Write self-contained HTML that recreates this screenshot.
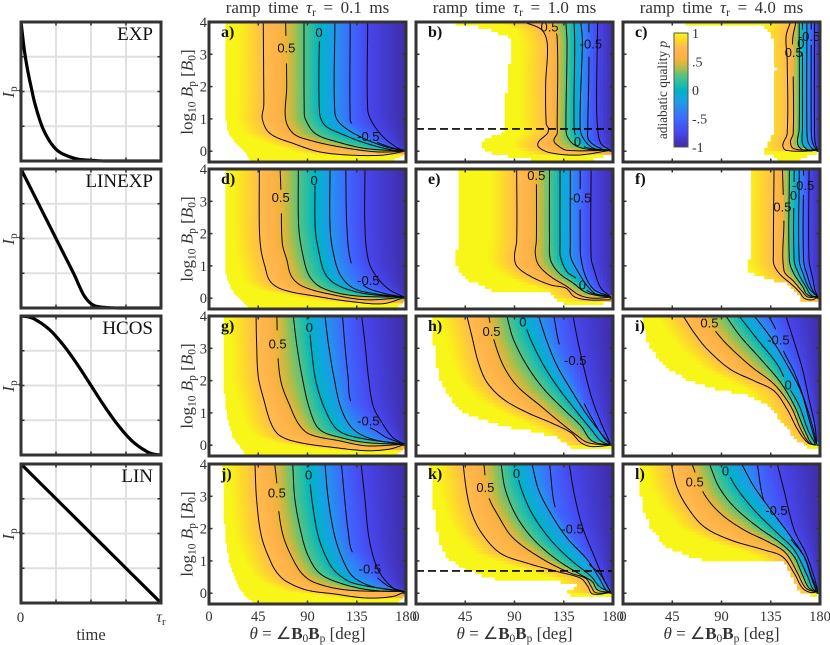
<!DOCTYPE html>
<html><head><meta charset="utf-8"><title>Adiabatic quality maps</title>
<style>
html,body{margin:0;padding:0;background:#fff}
svg{display:block}
text{font-family:"Liberation Serif",serif;fill:#333}
.contour-label{font-family:"Liberation Sans",sans-serif;fill:#111;font-size:13px;text-anchor:middle}
</style></head>
<body>
<svg id="figure" xmlns="http://www.w3.org/2000/svg" width="830" height="645" viewBox="0 0 830 645"></svg>
<script>
// ---------- pulse shape data ----------
const expTime=[0,.025,.05,.075,.1,.15,.2,.25,.3,.4,.5,.6,1];
const expCurrent=[1,.79,.64,.52,.41,.25,.15,.085,.05,.015,.005,0,0];
const linexpTime=[0,.1,.2,.3,.38,.42,.45,.49,.53,.6,.7,1];
const linexpCurrent=[1,.8,.6,.4,.24,.15,.09,.04,.015,.004,0,0];
const hcosTime=[0,.05,.1,.2,.3,.4,.5,.6,.7,.8,.9,.95,1];
const hcosCurrent=[1,.994,.976,.905,.794,.655,.5,.345,.206,.095,.024,.006,0];
const linTime=[0,1];
const linCurrent=[1,0];
const pulseNames=["EXP","LINEXP","HCOS","LIN"];

// ---------- contour levels and axes ----------
const contourLevels=[.75,.5,.25,0,-.25,-.5,-.75];
const thetaTicks=[0,45,90,135,180];
const logBTicks=[0,1,2,3,4];
const colorbarTicks=[[1,"1"],[.5,".5"],[0,"0"],[-.5,"-.5"],[-1,"-1"]];
const rampTimes=["0.1","1.0","4.0"];
const dashedLogB=.69;

// contours: theta,logB pairs per level. labels: text,line,theta,logB,gapTop,gapBottom
const linesA=[
[49.6,4,50,2,50,1.4,48.7,1,55.7,.55,77,.24,101,-.02,129,-.12,159,-.12,179,0],
[70,4,71,2,70,1,77,.55,92,.34,120,.13,153,-.02,180,0],
[86.8,4,87,1.27,88,1,97,.55,117,.29,144,.08,180,0],
[101,4,101,1.2,106,.8,120,.55,144,.24,168,.03,180,0],
[115,4,115,1.2,120,.85,138,.45,162,.13,180,0],
[129,4,129,.95,131,.85,140,.55,150,.33,168,.1,180,.02],
[145,4,145,1.3,149,.9,159,.45,171,.13,180,0]];
const labelsA=[["0.5",1,70.7,3.2,3.49,2.84],["0",3,100.5,3.68,3.85,3.49],["-0.5",5,145.6,.46,.86,.29]];
const leftA=[[4,14.6],[1.2,14.6],[.55,17.7],[.24,25],[-.02,33],[-.28,37]];
const rightA=[[-.05,180],[-.15,175],[-.26,168]];

const linesB=[
[98.6,4,115,3.75,120,3.3,118.5,2.1,119,.85,121,.7,120,.55,112,.29,112,.13,123,-.05,148,-.12,178,.03],
[125,4,129,3.5,129,.75,129,.55,126,.34,129,.19,138,.03,178,.03],
[137,4,138,3.3,137,.7,138.5,.44,145,.19,157,.06,178,.03],
[144.5,4,145,3.3,144.5,.7,147,.4,154,.13,178,.03],
[150.6,4,152,3.4,150,.7,154,.34,163,.08,178,.03],
[158,4,158,2.5,157,.7,158,.34,169,.08,178,.03],
[166,4,165,1.6,166,.7,169,.24,178,.03]];
const labelsB=[["0.5",1,122,3.85,4,3.65],["-0.5",5,159.8,3.32,3.6,3],["0",3,147.5,.3,.5,.15]];
const leftB=[[4,37],[3.95,37],[3.8,65],[3.6,80],[3.45,88],[3.13,87],[2.6,85],[2.1,83],[1.4,82],[.7,82],[.55,77],[.34,62],[.19,59],[-.02,63],[-.17,86],[-.28,111]];
const rightB=[[-.05,180],[-.15,172],[-.26,160]];

const linesC=[
[153,4,149,3.55,150,2.85,150,.55,146,.19,149,.03,172,.01,178,.07],
[158,4,155,3.45,155.5,2.45,155.5,.55,153,.29,156,.08,175,.03],
[161,4,161,.7,159.5,.24,164,.05,176,.03],
[164,4,164,.7,164,.24,168.6,.05,177,.03],
[168,4,168,.7,169,.3,173,.08,178,.03],
[172,4,172,.7,173,.3,176,.08,178,.03],
[175,4,175,.55,176,.2,178,.03]];
const labelsC=[["0.5",1,156,3.06,3.3,2.45],["0",3,162.5,3.34,3.55,3.1],["-0.5",5,170,3.55,3.75,3.3]];
const leftC=[[4,58],[3.95,58],[3.9,125],[3.75,133],[3.35,138],[2.6,139.6],[.55,138],[.24,133],[-.02,127],[-.17,138],[-.28,144]];
const rightC=[[0,180],[-.1,172],[-.17,168],[-.26,161]];

const linesD=[
[46,4,46,2.2,47.5,1.5,51,1,56,.52,68,.26,98,.06,129,-.1,159,-.17,179,.03],
[65,4,66,3,67,1.7,71,1.2,75.5,.67,86,.36,114,.1,144,-.05,179,.03],
[81.6,4,82,2.2,86,1.3,92,.67,104,.31,132,.08,179,.03],
[97,4,97,2.2,100,1.5,106,.77,117,.41,141,.15,179,.03],
[110.6,4,110.6,2.2,113.6,1.4,120,.72,132,.31,153,.13,179,.03],
[125,4,126,2.2,130,1.08,141,.41,159,.16,179,.03],
[142.5,4,142.5,2.2,145.6,1.18,153,.67,165,.26,179,.03]];
const labelsD=[["0.5",1,65.5,3.11,3.33,2.72],["0",3,96,3.64,3.85,3.5],["-0.5",5,145.6,.55,1.08,.41]];
const leftD=[[4,14.6],[1.18,14.6],[.67,16],[.26,21],[0,27],[-.28,36]];
const rightD=[[-.05,180],[-.1,178],[-.22,173]];

const linesE=[
[92,4,92,1.8,90,1.28,92.4,.98,105,.67,123,.41,137,.31,144.5,.05,157,-.05,178,-.05],
[110,4,110,1.8,109,1.39,112,1.03,123,.67,138,.36,149,.1,161,0,178,.03],
[122,4,122,1.8,123,1.18,131,.77,144,.46,154,.2,166,.08,178,.05],
[131.6,4,131.6,1.7,132,1.28,138,.82,146,.62,158,.2,178,.05],
[141,4,141,1.7,141.4,1.28,147.5,.85,157,.36,166,.1,178,.05],
[150,4,150,1.8,150.6,1.28,155,.67,163,.26,178,.05],
[160,4,160,1.28,163,.85,169,.31,178,.05]];
const labelsE=[["0.5",1,109.9,3.8,4,3.6],["-0.5",5,150,3.1,3.35,2.75],["0",3,152,.41,.62,.25]];
const leftE=[[4,38.9],[1.8,38.9],[1.23,35.8],[.87,38.9],[.52,49.6],[.31,68],[.2,71],[.17,121],[-.05,129],[-.24,138.8]];
const rightE=[[-.05,180],[-.1,173.5],[-.2,166]];

const linesF=[
[138,4,137.4,1.39,138,1.03,144,.72,153,.46,161,.2,165.6,0,173,-.05,178,.05],
[145.7,4,147,2.4,147,.87,156,.52,164,.2,168.7,.04,178,.04],
[152,4,152,1.18,156,.77,164,.36,168.7,.1,178,.04],
[156.4,4,156.4,1.18,161,.72,167,.36,171.7,.1,178,.04],
[161,4,161,1.18,165,.72,170,.31,178,.04],
[165,4,165,1.18,168.7,.67,173,.26,178,.04],
[170,4,170,1.18,173,.67,175.4,.26,178,.04]];
const labelsF=[["0.5",1,145.7,2.82,3.2,2.45],["0",3,155.8,3.18,3.4,2.95],["-0.5",5,164.5,3.49,3.7,3.25]];
const leftF=[[4,116],[1.28,116],[.98,112],[.77,116.6],[.57,136.5],[.46,150],[.2,156],[.05,162.5],[-.12,161]];
const rightF=[[0,180],[-.1,177]];

const linesG=[
[43,4,43.5,3.16,45,2.13,50,1.42,57,.65,65,.29,83,.08,114,-.07,144,-.17,165,-.12,179,.03],
[62,4,63,2.75,66,1.93,74,1.21,82,.65,92,.34,120,.13,144,-.02,179,.03],
[77,4,80,3.16,85,2.13,92,1.11,101,.49,120,.24,144,.08,179,.03],
[91,4,94,2.85,98,1.93,106,1.11,117,.49,135,.24,179,.03],
[106,4,109,3.16,114,2.13,121,1.11,132,.49,150,.18,179,.03],
[122,4,124,3.16,127,2.13,130,1.31,145,.6,153,.44,162,.24,179,.03],
[139.5,4,142.5,3.16,145.6,2.13,150,1.21,158,.7,168,.24,179,.03]];
const labelsG=[["0.5",1,62.7,3.13,3.47,2.75],["0",3,91.7,3.65,3.85,3.5],["-0.5",5,145.6,.75,1.31,.55]];
const leftG=[[4,13],[2.13,13.7],[1.3,14.6],[.7,17.7],[.24,22],[-.02,28],[-.28,33]];
const rightG=[[-.07,180],[-.22,173]];

const linesH=[
[46.5,4,51,3.38,57,2.56,65,1.94,80,1.42,101.6,1.01,123,.7,141.5,.39,150.6,.08,160,-.04,178,0],
[66.4,4,71,3.28,80,2.45,92.5,1.83,114,1.21,132,.7,147.5,.29,157,.08,178,0],
[83,4,89,3.28,101.6,2.45,117,1.73,135,1.11,150.6,.6,161,.13,178,0],
[97,4,104.7,3.28,117,2.45,131,1.73,147.5,1.01,160,.49,169,.13,178,0],
[112,4,120,3.18,129,2.45,141.4,1.73,155,1,166,.5,178,0],
[126,4,131,3.12,140,2.4,153.7,1.29,163,.7,171.4,.24,178,0],
[143.5,4,147.5,3.28,153.7,2.35,161,1.42,169,.7,175,.24,178,0]];
const labelsH=[["0.5",1,69,3.52,3.75,3.3],["0",3,97.6,3.81,4,3.6],["-0.5",5,145.5,2.63,3.12,1.29]];
const leftH=[[4,14.4],[3.18,16],[2.14,20.5],[1.53,29.7],[1.11,40],[.91,51],[.6,78.7],[.44,108],[.24,129],[.03,138],[-.14,147.5]];
const rightH=[[-.05,180],[-.1,175]];

const linesI=[
[55,4,65,3.48,77,2.97,98,2.35,120,1.99,138,1.68,150,1.11,159.5,.49,168.7,.08,176,0],
[74,4,84.5,3.53,95,3.12,116.6,2.45,138,1.89,153,1.22,162.5,.49,170,.08,176,0],
[94,4,107,3.38,126,2.66,144,1.94,156.6,1.22,165.6,.49,171.7,.08,176,0],
[106,4,122.7,3.28,141,2.5,150,1.89,161,1.22,168.7,.49,175,.08,176,0],
[120,4,135,3.33,150.6,2.45,163,1.63,170,.8,176,.08],
[133,4,139.5,3.59,146.6,2.92,156.6,2.25,165.6,1.42,173,.6,177,.03],
[148.8,4,156.6,3.18,164,2.35,170,1.42,175.4,.6,177,.03]];
const labelsI=[["0.5",1,79,3.79,4,3.55],["0",3,150.9,1.86,2.1,1.7],["-0.5",5,142,3.26,3.59,2.92]];
const leftI=[[4,18.7],[3.38,20],[2.87,28],[2.4,40],[2.04,58.5],[1.78,80],[1.58,110.5],[1.32,129],[.91,141],[.4,153],[.08,162.5],[-.1,172]];
const rightI=[[0,180],[-.07,178]];

const linesJ=[
[42,4,43.5,2.9,48,1.75,57,.93,63,.6,71,.36,89,.1,114,-.02,144,-.15,168,-.1,179,.05],
[60,4,62,3.4,63.5,2.6,68,1.75,77,1.03,86,.57,98,.31,126,.1,179,.05],
[76.5,4,78.5,2.9,85,1.75,91,1.13,101,.62,120,.31,147,.1,179,.05],
[91,4,94,2.9,100,1.75,109,.98,117,.62,132,.31,179,.05],
[106,4,109,2.9,115,1.75,123,.98,132,.5,150,.2,179,.05],
[121,4,124,2.9,127,1.96,131,1.27,145,.75,153,.5,165,.2,179,.05],
[139,4,142.5,2.9,146,1.75,152,.93,159.5,.46,171,.1,179,.05]];
const labelsJ=[["0.5",1,62,3.1,3.4,2.6],["0",3,91,3.66,3.85,3.4],["-0.5",5,147,.75,1.27,.5]];
const leftJ=[[4,12.5],[2.37,13.7],[1.44,16],[.93,19],[.46,24],[.15,28],[-.1,34],[-.28,40.5]];
const rightJ=[[-.05,180],[-.26,173]];

const linesK=[
[43,4,46.5,3.09,51,2.47,60,1.86,77,1.24,101.6,.93,129,.67,150.6,.46,157,.21,161.3,-.02,178,.02],
[62,4,65.8,3.04,75.6,2.37,89,1.7,117,1.03,141.4,.62,155,.46,160,.21,164,.02,178,.02],
[77.7,4,81.7,3.2,92,2.37,107.8,1.65,129,1.03,150.6,.57,161,.36,166,.1,178,.02],
[91,4,95.5,3.3,106,2.47,123,1.65,141.4,1.03,160,.52,167.5,.21,178,.02],
[106,4,112,3.2,123,2.47,138.3,1.7,156.7,1.03,167.5,.46,173.6,.1,178,.02],
[122,4,128,2.56,143,1.7,158.3,.9,167.5,.62,175,.21,178,.02],
[140,4,144.5,3.09,152,2.06,163,1.13,170.5,.52,176.6,.1,178,.02]];
const labelsK=[["0.5",1,63.4,3.28,3.6,2.95],["0",3,91.8,3.71,3.9,3.5],["-0.5",5,143,1.99,2.56,.9]];
const leftK=[[4,12.9],[3.2,14.4],[2.37,17.4],[1.65,20.5],[1.13,28],[.82,40.4],[.57,58.8],[.39,80],[.38,126],[.26,147.5],[.05,138],[-.12,141.4]];
const rightK=[[0,180],[-.1,178]];

const linesL=[
[44,4,49,3.3,58.5,2.68,74,2.06,98,1.65,129,1.34,145.7,1.13,156.4,.62,164,.16,171.7,.02,178,.05],
[63,4,73.8,3.09,89,2.47,110.5,1.96,135,1.55,148.8,1.24,159.5,.62,167,.16,178,.02],
[79,4,87.5,3.3,101.3,2.68,122.7,2.06,144,1.55,156.4,1.13,164,.56,170,.16,178,.02],
[92,4,103,3.3,119.7,2.58,141,1.86,156.4,1.34,168.7,.52,173,.16,178,.02],
[108.4,4,119.7,3.3,135,2.58,153.4,1.75,165.6,1.13,171.7,.52,176.3,.1,178,.02],
[122.7,4,128.9,2.85,140,2.3,153.4,1.67,165.6,1.13,173,.46,178,.05],
[141,4,147,3.2,156.4,1.96,167,1.24,175,.46,178,.05]];
const labelsL=[["0.5",1,65.5,3.45,3.7,3.2],["0",3,93.7,3.79,4,3.6],["-0.5",5,140.2,2.56,2.85,1.67]];
const leftL=[[4,13.5],[3.2,15.6],[2.58,18.7],[1.96,26.3],[1.44,40],[1.13,61.5],[1,80],[.99,147],[.52,153.4],[.05,161],[-.07,172]];
const rightL=[[0,180],[-.05,178]];

const panelLetters=["a)","b)","c)","d)","e)","f)","g)","h)","i)","j)","k)","l)"];
const panelLines=[linesA,linesB,linesC,linesD,linesE,linesF,linesG,linesH,linesI,linesJ,linesK,linesL];
const panelLabels=[labelsA,labelsB,labelsC,labelsD,labelsE,labelsF,labelsG,labelsH,labelsI,labelsJ,labelsK,labelsL];
const panelLeft=[leftA,leftB,leftC,leftD,leftE,leftF,leftG,leftH,leftI,leftJ,leftK,leftL];
const panelRight=[rightA,rightB,rightC,rightD,rightE,rightF,rightG,rightH,rightI,rightJ,rightK,rightL];

// ---------- layout ----------
const NS="http://www.w3.org/2000/svg";
const svg=document.getElementById("figure");
const colLeft=[209,416,623], plotW=197, rowTop=[22,169,316,464], plotH=140, decade=32.3;
const FRAME="#333";
const xTheta=(c,t)=>colLeft[c]+t/180*plotW;
const yLogB=(r,l)=>rowTop[r]+(4-l)*decade;
const xPulse=t=>21+t*140;
const yPulse=(r,v)=>rowTop[r]+(1-v)*139;

function el(tag,attrs,parent){
  const e=document.createElementNS(NS,tag);
  for(const k in attrs)e.setAttribute(k,attrs[k]);
  (parent||svg).appendChild(e);
  return e;
}
function addSpans(t,parts){
  for(const p of parts){
    const s=document.createElementNS(NS,"tspan");
    s.textContent=p.t;
    if(p.i)s.setAttribute("font-style","italic");
    if(p.b)s.setAttribute("font-weight","bold");
    if(p.s)s.setAttribute("font-size",p.s);
    if(p.dy)s.setAttribute("dy",p.dy);
    t.appendChild(s);
  }
}

// ---------- colour map ----------
const cmapLevels=[1,.87,.75,.6,.5,.38,.25,.12,0,-.12,-.25,-.5,-.75,-1];
const cmapColors=[[248,245,25],[253,215,45],[255,188,78],[255,178,72],[236,180,58],[170,190,75],[85,195,130],[40,190,165],[0,180,195],[15,168,218],[35,150,235],[62,105,255],[72,70,238],[62,45,165]];
function color(v){
  v=Math.max(-1,Math.min(1,v));
  for(let i=0;i<cmapLevels.length-1;i++){
    if(v<=cmapLevels[i]&&v>=cmapLevels[i+1]){
      const f=(cmapLevels[i]-v)/(cmapLevels[i]-cmapLevels[i+1]);
      const a=cmapColors[i],b=cmapColors[i+1];
      return "rgb("+a.map((c,k)=>Math.round(c+(b[k]-c)*f)).join(",")+")";
    }
  }
  return "rgb(62,45,165)";
}

// ---------- field lookup ----------
function tableAt(tab,l,dflt){
  if(l>=tab[0][0])return dflt===undefined?tab[0][1]:dflt;
  for(let i=0;i<tab.length-1;i++){
    if(l<=tab[i][0]&&l>=tab[i+1][0]){
      const f=(tab[i][0]-l)/(tab[i][0]-tab[i+1][0]);
      return tab[i][1]+(tab[i+1][1]-tab[i][1])*f;
    }
  }
  return tab[tab.length-1][1];
}
function crossing(line,l){
  for(let i=0;i+3<line.length;i+=2){
    const a=line[i+1],b=line[i+3];
    if((a>=l&&b<=l)||(a<=l&&b>=l)){
      if(a===b)return line[i];
      return line[i]+(line[i+2]-line[i])*(l-a)/(b-a);
    }
  }
  return null;
}
function fieldAt(lines,th,l){
  const kn=[];
  let prev=-1;
  for(let k=0;k<lines.length;k++){
    let c=crossing(lines[k],l);
    if(c===null)break;
    c=Math.max(c,prev+.01);prev=c;
    if(k===0)kn.push([c-24,1]);
    kn.push([c,contourLevels[k]]);
  }
  if(!kn.length)return 1;
  const n=kn.length-1;
  if(n>=lines.length)kn.push([Math.max(181,prev+1),-1]);
  else kn.push([Math.max(185,prev+1),contourLevels[n]]);
  if(th<=kn[0][0])return 1;
  for(let i=0;i<kn.length-1;i++){
    if(th<=kn[i+1][0]){
      return kn[i][1]+(kn[i+1][1]-kn[i][1])*(th-kn[i][0])/(kn[i+1][0]-kn[i][0]);
    }
  }
  return kn[kn.length-1][1];
}

// ---------- smooth paths ----------
function smoothSamples(P){
  const unit=(a,b)=>{const dx=b.x-a.x,dy=b.y-a.y,d=Math.hypot(dx,dy)||1;return{x:dx/d,y:dy/d}};
  const out=[];
  for(let i=0;i<P.length-1;i++){
    const a=P[i],b=P[i+1],len=Math.hypot(b.x-a.x,b.y-a.y);
    const ta=unit(P[Math.max(0,i-1)],b),tb=unit(a,P[Math.min(P.length-1,i+2)]);
    const c1={x:a.x+ta.x*len/3,y:a.y+ta.y*len/3},c2={x:b.x-tb.x*len/3,y:b.y-tb.y*len/3};
    for(let s=0;s<=14;s++){
      const u=s/14,w=1-u;
      out.push({x:w*w*w*a.x+3*w*w*u*c1.x+3*w*u*u*c2.x+u*u*u*b.x,
                y:w*w*w*a.y+3*w*w*u*c1.y+3*w*u*u*c2.y+u*u*u*b.y});
    }
  }
  return out;
}
function contourPath(c,r,line,gaps){
  const P=[];
  for(let i=0;i<line.length;i+=2)P.push({x:xTheta(c,line[i]),y:yLogB(r,line[i+1])});
  let d="",pen=false;
  smoothSamples(P).forEach(q=>{
    const lv=4-(q.y-rowTop[r])/decade;
    if(gaps.some(g=>lv<=g[0]&&lv>=g[1])){pen=false;return;}
    d+=(pen?"L":"M")+q.x.toFixed(2)+" "+q.y.toFixed(2);
    pen=true;
  });
  return d;
}

// ---------- pulse panels ----------
const pulseT=[expTime,linexpTime,hcosTime,linTime], pulseV=[expCurrent,linexpCurrent,hcosCurrent,linCurrent];
const pulseGrid=[.25,.5,.75];
pulseNames.forEach((name,r)=>{
  const g=el("g",{});
  
  
  pulseGrid.forEach(f=>{
    const v=el("line",{x1:xPulse(f),x2:xPulse(f),y1:yPulse(r,1),y2:yPulse(r,0),stroke:"#e0e0e0","stroke-width":2},g);
    
    
    const h=el("line",{x1:xPulse(0),x2:xPulse(1),y1:yPulse(r,f),y2:yPulse(r,f),stroke:"#e0e0e0","stroke-width":2},g);
    
    
  });
  const P=pulseT[r].map((t,i)=>({x:xPulse(t),y:yPulse(r,pulseV[r][i])}));
  const pts=smoothSamples(P).map(q=>q.x.toFixed(2)+","+Math.min(q.y,yPulse(r,0)).toFixed(2)).join(" ");
  const curve=el("polyline",{points:pts,fill:"none",stroke:"#000","stroke-width":3.2,"stroke-linejoin":"round"},g);
  
  
  const fr=el("rect",{x:21,y:rowTop[r],width:140,height:139,fill:"none",stroke:FRAME,"stroke-width":3},g);
  
  
  pulseGrid.forEach(f=>{
    [[xPulse(f),yPulse(r,1),xPulse(f),yPulse(r,1)+3.5],[xPulse(f),yPulse(r,0),xPulse(f),yPulse(r,0)-3.5],[21,yPulse(r,f),24.5,yPulse(r,f)],[161,yPulse(r,f),157.5,yPulse(r,f)]].forEach(q=>{
      const tk=el("line",{x1:q[0],y1:q[1],x2:q[2],y2:q[3],stroke:FRAME,"stroke-width":1.5},g);
      
      
    });
  });
  const t=el("text",{x:153,y:rowTop[r]+18,"text-anchor":"end","font-size":19,style:"fill:#111"},g);
  t.textContent=name;
  
  
  const yl=el("text",{transform:"translate(14,"+(rowTop[r]+70)+") rotate(-90)","text-anchor":"middle","font-size":17},g);
  addSpans(yl,[{t:"I",i:1},{t:"p",s:11.5,dy:3}]);
  
  
});
const tick0=el("text",{x:20.5,y:622,"text-anchor":"middle","font-size":15});
tick0.textContent="0";


const tickR=el("text",{x:161,y:622,"text-anchor":"middle","font-size":16});
addSpans(tickR,[{t:"τ",i:1},{t:"r",s:11,dy:3}]);


const timeLabel=el("text",{x:91,y:640,"text-anchor":"middle","font-size":16.5});
timeLabel.textContent="time";



// ---------- map panels ----------
panelLetters.forEach((letter,idx)=>{
  const c=idx%3,r=Math.floor(idx/3);
  const dTheta=c===0?1.5:3,dLog=c===0?.05:.1;
  const nTheta=Math.round(180/dTheta);
  const lines=panelLines[idx],labels=panelLabels[idx],left=panelLeft[idx],right=panelRight[idx];
  const g=el("g",{});
  
  
  const minL=left[left.length-1][0];
  const cw=xTheta(c,dTheta)-xTheta(c,0),ch=decade*dLog;
  for(let j=0;4-(j+.5)*dLog>=minL;j++){
    const l=4-(j+.5)*dLog;
    const lo=tableAt(left,l),hi=tableAt(right,l,180);
    for(let i=0;i<nTheta;i++){
      const th=(i+.5)*dTheta;
      if(th<lo||th>hi)continue;
      const cell=el("rect",{x:xTheta(c,i*dTheta).toFixed(2),y:yLogB(r,4-j*dLog).toFixed(2),width:(cw+.4).toFixed(2),height:(ch+.4).toFixed(2),fill:color(fieldAt(lines,th,l))},g);
      
      
    }
  }
  lines.forEach((line,k)=>{
    const gaps=labels.filter(q=>q[1]===k).map(q=>[q[4],q[5]]);
    const p=el("path",{d:contourPath(c,r,line,gaps),fill:"none",stroke:"#0a0a0a","stroke-width":1},g);
    
    
  });
  labels.forEach(q=>{
    const t=el("text",{x:xTheta(c,q[2]),y:yLogB(r,q[3])+4.5,class:"contour-label"},g);
    t.textContent=q[0];
    
    
  });
  if(idx===1||idx===10){
    const dash=el("line",{x1:xTheta(c,0),x2:xTheta(c,180),y1:yLogB(r,dashedLogB),y2:yLogB(r,dashedLogB),stroke:"#000","stroke-width":1.6,"stroke-dasharray":"8 4"},g);
    
    
  }
  const fr=el("rect",{x:colLeft[c],y:rowTop[r],width:plotW,height:plotH,fill:"none",stroke:FRAME,"stroke-width":3},g);
  
  
  thetaTicks.slice(1,4).forEach(t=>{
    [[rowTop[r],rowTop[r]+3.5],[rowTop[r]+plotH,rowTop[r]+plotH-3.5]].forEach(q=>{
      const tk=el("line",{x1:xTheta(c,t),x2:xTheta(c,t),y1:q[0],y2:q[1],stroke:FRAME,"stroke-width":1.5},g);
      
      
    });
  });
  logBTicks.forEach(l=>{
    [[colLeft[c],colLeft[c]+3.5],[colLeft[c]+plotW,colLeft[c]+plotW-3.5]].forEach(q=>{
      const tk=el("line",{x1:q[0],x2:q[1],y1:yLogB(r,l),y2:yLogB(r,l),stroke:FRAME,"stroke-width":1.5},g);
      
      
    });
  });
  const lt=el("text",{x:colLeft[c]+12,y:rowTop[r]+15,"font-size":16,"font-weight":"bold",style:"fill:#111"},g);
  lt.textContent=letter;
  
  
  if(c===0){
    logBTicks.forEach(l=>{
      const t=el("text",{x:207,y:yLogB(r,l)+5,"text-anchor":"end","font-size":14.5},g);
      t.textContent=String(l);
      
      
    });
    const yl=el("text",{transform:"translate(192.5,"+(rowTop[r]+70)+") rotate(-90)","text-anchor":"middle","font-size":17},g);
    addSpans(yl,[{t:"log"},{t:"10",s:11.5,dy:3},{t:" B",i:1,dy:-3},{t:"p",s:11.5,dy:3},{t:" [",dy:-3},{t:"B",i:1},{t:"0",s:11.5,dy:3},{t:"]",dy:-3}]);
    
    
  }
  if(r===0){
    const t=el("text",{x:colLeft[c]+plotW/2,y:13,"text-anchor":"middle","font-size":17,"word-spacing":"3.3px"},g);
    addSpans(t,[{t:"ramp time "},{t:"τ",i:1},{t:"r",s:11.5,dy:3},{t:" = "+rampTimes[c]+" ms",dy:-3}]);
    
    
  }
  if(r===3){
    thetaTicks.forEach(th=>{
      const t=el("text",{x:xTheta(c,th),y:621,"text-anchor":"middle","font-size":14.5},g);
      t.textContent=String(th);
      
      
    });
    const xl=el("text",{x:colLeft[c]+plotW/2,y:639,"text-anchor":"middle","font-size":17},g);
    addSpans(xl,[{t:"θ",i:1},{t:" = ∠"},{t:"B",b:1},{t:"0",s:11.5,dy:3},{t:"B",b:1,dy:-3},{t:"p",s:11.5,dy:3},{t:" [deg]",dy:-3}]);
    
    
  }
});

// ---------- colour bar ----------
const cbX=674,cbW=14,cbTop=33,cbH=114;
const yCb=v=>cbTop+(1-v)/2*cbH;
const cbGroup=el("g",{});


for(let i=0;i<64;i++){
  const v=1-(i+.5)/32;
  const s=el("rect",{x:cbX,y:(cbTop+i*cbH/64).toFixed(2),width:cbW,height:(cbH/64+.4).toFixed(2),fill:color(v)},cbGroup);
  
  
}
const cbFrame=el("rect",{x:cbX,y:cbTop,width:cbW,height:cbH,fill:"none",stroke:"#555","stroke-width":1},cbGroup);


colorbarTicks.forEach(q=>{
  const t=el("text",{x:692,y:yCb(q[0])+5,"font-size":14},cbGroup);
  t.textContent=q[1];
  
  
});
const cbTitle=el("text",{transform:"translate(667,90) rotate(-90)","text-anchor":"middle","font-size":13.3},cbGroup);
addSpans(cbTitle,[{t:"adiabatic quality "},{t:"p",i:1}]);


</script>
</body></html>
